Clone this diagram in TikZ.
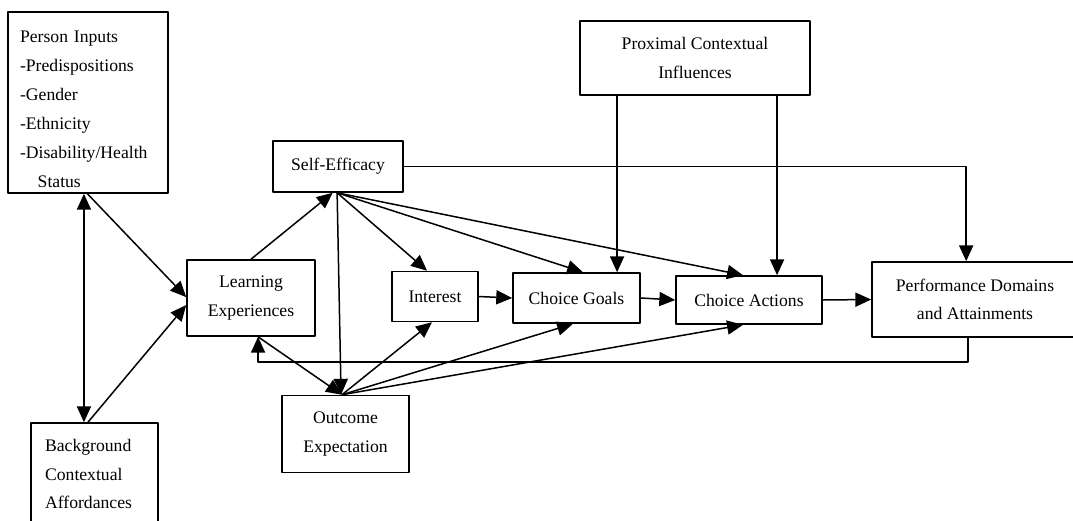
\documentclass[tikz,border=0pt]{standalone}
\usepackage{fontspec}
\setmainfont{Liberation Serif}
\usepackage{tikz}
\usetikzlibrary{arrows.meta}
\tikzset{
  box/.style={draw,line width=0.9pt,inner sep=0pt,align=center,
    font=\fontsize{10}{16}\selectfont},
  lbox/.style={draw,line width=0.9pt,align=left,inner ysep=0pt,
    font=\fontsize{10}{16.4}\selectfont},
  arr/.style={line width=0.85pt,-{Triangle[length=9pt,width=8pt]}},
  dbl/.style={line width=0.85pt,{Triangle[length=9pt,width=8pt]}-{Triangle[length=9pt,width=8pt]}}
}
\begin{document}
\begin{tikzpicture}[x=0.5666pt,y=-0.5666pt,join=round] % career model
  \useasboundingbox (0,0) rectangle (1073,521);
  \clip (0,0) rectangle (1073,521);
  % boxes
  \node[lbox,text width=77pt,inner xsep=6.8pt,minimum height=102.6pt] (person) at (88,102.5)
    {\rule{0pt}{14pt}Person Inputs\\-Predispositions\\-Gender\\-Ethnicity\\-Disability/Health\\\hspace*{10pt}Status};
  \node[lbox,text width=56pt,inner xsep=8pt,minimum height=57.8pt] (background) at (94.5,474)
    {Background\\Contextual\\Affordances};
  \node[box,minimum width=72.5pt,minimum height=43.1pt] (learning) at (251,298) {Learning\\Experiences};
  \node[box,minimum width=73.7pt,minimum height=28.9pt] (selfeff) at (338,166.5) {Self-Efficacy};
  \node[box,minimum width=48.7pt,minimum height=28.3pt] (interest) at (435,296.5) {Interest};
  \node[box,minimum width=72pt,minimum height=28.3pt] (goals) at (576.5,298) {Choice Goals};
  \node[box,minimum width=82.7pt,minimum height=27.2pt] (actions) at (749,300) {Choice Actions};
  \node[box,minimum width=116.7pt,minimum height=42.5pt] (perf) at (975,299.5) {Performance Domains\\and Attainments};
  \node[box,minimum width=72pt,minimum height=43.6pt] (outcome) at (345.5,434) {Outcome\\Expectation};
  \node[box,minimum width=130.3pt,minimum height=41.9pt] (proximal) at (695,58) {Proximal Contextual\\Influences};
  % connectors
  \draw[dbl] ([xshift=-2.3pt]person.south) -- ([xshift=-2.3pt]person.south |- background.north);
  \draw[arr] ([xshift=-0.3pt]person.south) -- ([yshift=0.5pt]learning.west);
  \draw[arr] ([xshift=-3.7pt]background.north) -- ([yshift=-4pt]learning.west);
  \draw[arr] (learning.north) -- ([xshift=-3pt]selfeff.south);
  \draw[arr] ([xshift=-0.5pt]selfeff.south) -- ([xshift=-4.5pt]interest.north);
  \draw[arr] ([xshift=-0.5pt]selfeff.south) -- ([xshift=3.7pt]goals.north);
  \draw[arr] ([xshift=-0.5pt]selfeff.south) -- ([xshift=-3.4pt]actions.north);
  \draw[arr] ([xshift=-0.5pt]selfeff.south) -- ([xshift=-2.5pt]outcome.north);
  \draw[arr] (selfeff.east) -| ([xshift=-5pt]perf.north);
  \draw[arr] ([xshift=23pt]goals.north |- proximal.south) -- ([xshift=23pt]goals.north);
  \draw[arr] ([xshift=15.9pt]actions.north |- proximal.south) -- ([xshift=15.9pt]actions.north);
  \draw[arr] (interest.east) -- (goals.west);
  \draw[arr] (goals.east) -- (actions.west);
  \draw[arr] (actions.east) -- (perf.west);
  \draw[arr] ([xshift=-2pt]outcome.north) -- ([xshift=-1.7pt]interest.south);
  \draw[arr] ([xshift=-2pt]outcome.north) -- ([xshift=-2pt]goals.south);
  \draw[arr] ([xshift=-2pt]outcome.north) -- ([xshift=-3.4pt]actions.south);
  \draw[arr] ([xshift=4pt]learning.south) -- ([xshift=-2pt]outcome.north);
  \draw[arr] ([xshift=-4pt]perf.south) -- ++(0,24) -| ([xshift=4pt]learning.south);
\end{tikzpicture}
\end{document}
